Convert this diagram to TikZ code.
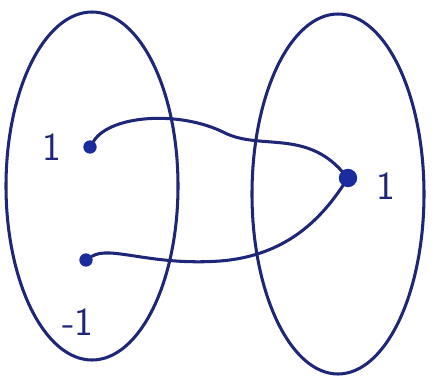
\documentclass[tikz,border=0pt]{standalone}
\usepackage{tikz}
\usetikzlibrary{arrows.meta,positioning,calc}
\definecolor{ink}{HTML}{1E2677}
\definecolor{dotblue}{HTML}{1B2C9E}
\tikzset{
  pen/.style={draw=ink, line width=2.6pt, line cap=round},
  elem/.style={circle, fill=dotblue, minimum size=4mm, inner sep=0pt},
  lbl/.style={text=ink, font=\fontsize{34}{38}\selectfont\sffamily}
}
\begin{document}
\begin{tikzpicture}[x=0.03cm,y=-0.03cm]
  \useasboundingbox (0,0) rectangle (438,388);
  % the two sets
  \draw[pen] (92,186) ellipse [x radius=86, y radius=174];
  \draw[pen] (338,194) ellipse [x radius=86, y radius=180];
  % elements
  \node[elem] (a) at (90,147) {};
  \node[elem] (b) at (86,260) {};
  \node[elem, minimum size=5.5mm] (c) at (348,178) {};
  \node[lbl] (la) at (52,147) {1};
  \node[lbl] (lb) at (78,322) {-1};
  \node[lbl] (lc) at (386,186) {1};
  % the map
  \draw[pen] (a) .. controls (110,115) and (180,110) .. (225,133)
                 .. controls (260,150) and (305,130) .. (c);
  \draw[pen] (b) .. controls (110,245) and (150,266) .. (220,261)
                 .. controls (285,256) and (320,220) .. (c);
\end{tikzpicture}
\end{document}
